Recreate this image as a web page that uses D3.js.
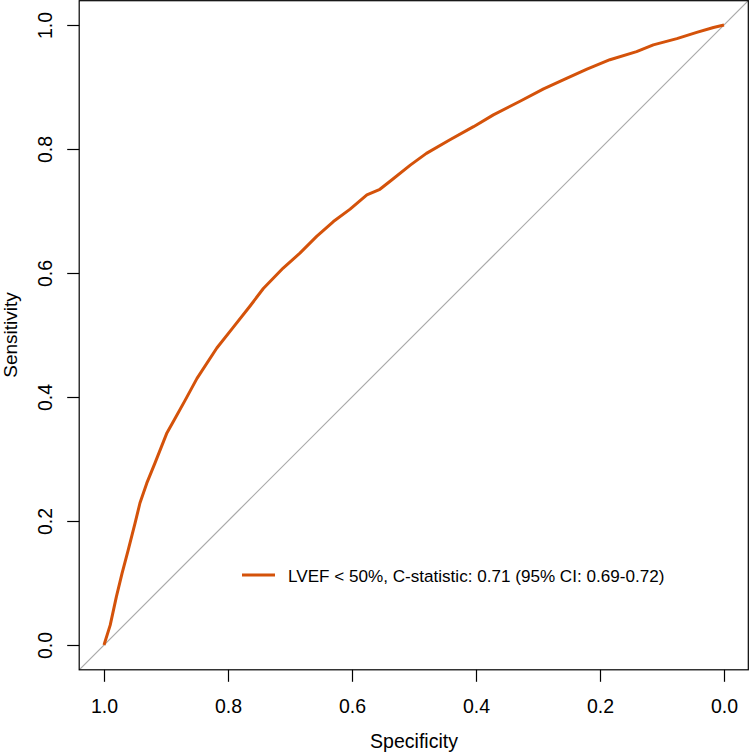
<!DOCTYPE html>
<html>
<head>
<meta charset="utf-8">
<script src="https://cdn.jsdelivr.net/npm/d3@7"></script>
<style>
  html, body { margin: 0; padding: 0; background: #fff; }
  text { font-family: "Liberation Sans", Arial, Helvetica, sans-serif; fill: #000; }
</style>
</head>
<body>
<svg id="chart" width="750" height="754"></svg>
<script>
// ROC curve points
const specificity = [1.000, 0.990, 0.980, 0.971, 0.961, 0.950, 0.942, 0.931, 0.918, 0.899, 0.885, 0.869, 0.850, 0.818, 0.791, 0.765, 0.743, 0.711, 0.684, 0.657, 0.630, 0.603, 0.576, 0.555, 0.536, 0.506, 0.480, 0.442, 0.404, 0.372, 0.329, 0.291, 0.254, 0.221, 0.184, 0.141, 0.114, 0.076, 0.044, 0.017, 0.000];
const sensitivity = [0.000, 0.032, 0.078, 0.115, 0.153, 0.196, 0.229, 0.261, 0.293, 0.341, 0.366, 0.395, 0.430, 0.479, 0.513, 0.546, 0.575, 0.608, 0.632, 0.659, 0.683, 0.703, 0.726, 0.735, 0.750, 0.774, 0.793, 0.815, 0.836, 0.855, 0.877, 0.897, 0.914, 0.929, 0.944, 0.957, 0.968, 0.978, 0.988, 0.996, 1.000];
const xTicks = [1.0, 0.8, 0.6, 0.4, 0.2, 0.0];
const yTicks = [0.0, 0.2, 0.4, 0.6, 0.8, 1.0];
const legendLabel = "LVEF < 50%, C-statistic: 0.71 (95% CI: 0.69-0.72)";
const xTitle = "Specificity";
const yTitle = "Sensitivity";

const curveColor = "#D4520A";
const svg = d3.select("#chart");

const x = d3.scaleLinear().domain([1, 0]).range([104, 724]);
const y = d3.scaleLinear().domain([0, 1]).range([645, 25]);
const ext = 0.04;
const x0 = x(1 + ext), x1 = x(-ext), y0 = y(-ext), y1 = y(1 + ext);

// diagonal reference line
svg.append("line")
  .attr("x1", x0).attr("y1", y0)
  .attr("x2", x1).attr("y2", y1)
  .attr("stroke", "#A9A9A9").attr("stroke-width", 1.2);

// ROC curve
const pts = specificity.map((s, i) => [s, sensitivity[i]]);
svg.append("path")
  .datum(pts)
  .attr("fill", "none")
  .attr("stroke", curveColor)
  .attr("stroke-width", 3)
  .attr("stroke-linejoin", "round")
  .attr("d", d3.line().x(d => x(d[0])).y(d => y(d[1])));

// box
svg.append("rect")
  .attr("x", x0).attr("y", y1 + 0.5)
  .attr("width", x1 - x0 - 0.5).attr("height", y0 - y1 - 0.5)
  .attr("fill", "none").attr("stroke", "#000").attr("stroke-width", 1.2);

// axes
const gx = svg.append("g").attr("transform", `translate(0,${y0})`)
  .call(d3.axisBottom(x).tickValues(xTicks).tickFormat(d3.format(".1f")).tickSize(12));
gx.select(".domain").remove();
gx.selectAll(".tick line").attr("stroke", "#000").attr("stroke-width", 1.2);
gx.selectAll(".tick text").attr("y", 43).attr("dy", 0)
  .style("font-size", "19.5px").style("font-family", "'Liberation Sans', Arial, sans-serif").attr("fill", "#000");

const gy = svg.append("g").attr("transform", `translate(${x0},0)`)
  .call(d3.axisLeft(y).tickValues(yTicks).tickFormat(d3.format(".1f")).tickSize(12));
gy.select(".domain").remove();
gy.selectAll(".tick line").attr("stroke", "#000").attr("stroke-width", 1.2);
gy.selectAll(".tick text")
  .attr("x", 0).attr("y", 0).attr("dy", 0)
  .attr("text-anchor", "middle")
  .attr("transform", "translate(-27,0) rotate(-90)")
  .style("font-size", "19.5px").style("font-family", "'Liberation Sans', Arial, sans-serif").attr("fill", "#000");

// axis titles
svg.append("text")
  .attr("x", (x0 + x1) / 2).attr("y", 748)
  .attr("text-anchor", "middle")
  .style("font-size", "19.5px")
  .text(xTitle);
svg.append("text")
  .attr("transform", `translate(17,${(y0 + y1) / 2}) rotate(-90)`)
  .attr("text-anchor", "middle")
  .style("font-size", "19px")
  .text(yTitle);

// legend
svg.append("line")
  .attr("x1", 242).attr("x2", 275).attr("y1", 575).attr("y2", 575)
  .attr("stroke", curveColor).attr("stroke-width", 3);
svg.append("text")
  .attr("x", 288).attr("y", 581.5)
  .style("font-size", "17.1px")
  .text(legendLabel);
</script>
</body>
</html>
